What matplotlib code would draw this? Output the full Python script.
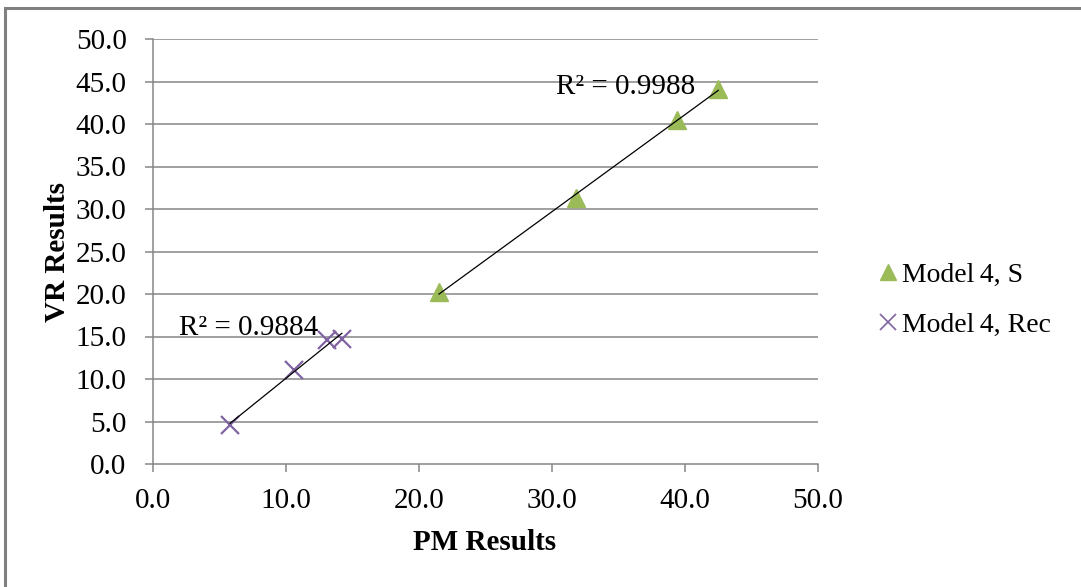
import numpy as np
import matplotlib
matplotlib.use("Agg")
import matplotlib.pyplot as plt
from matplotlib.patches import Rectangle
from matplotlib.lines import Line2D

# Data
s_pm = [21.5, 31.8, 39.4, 42.5]
s_vr = [20.2, 31.3, 40.5, 44.1]
rec_pm = [5.8, 10.6, 13.1, 14.2]
rec_vr = [4.6, 11.1, 14.6, 14.7]
s_label = "Model\u20094, S"
rec_label = "Model\u20094, Rec"
s_r2 = "R\u00b2 = 0.9988"
rec_r2 = "R\u00b2 = 0.9884"
ticks = [0, 10, 20, 30, 40, 50]
yticks = [0, 5, 10, 15, 20, 25, 30, 35, 40, 45, 50]

green = "#9BBB59"
purple = "#8064A2"
grid = "#868686"

plt.rcParams['font.family'] = ['Liberation Serif', 'DejaVu Serif']

fig = plt.figure(figsize=(10.81, 5.87), dpi=100)
fig.patches.append(Rectangle((5/1081, -0.1), 1.2, 1 - 8/587 + 0.1, transform=fig.transFigure,
                             fill=False, edgecolor="#808080", linewidth=2.2))

ax = fig.add_axes([153/1081, 1 - 464/587, 665/1081, 425/587])
ax.set_xlim(0, 50)
ax.set_ylim(0, 50)
ax.set_xticks(ticks)
ax.set_yticks(yticks)
ax.set_xticklabels([f"{t:.1f}" for t in ticks])
ax.set_yticklabels([f"{t:.1f}" for t in yticks])
for t in yticks[1:]:
    ax.axhline(t, color=grid, lw=1.1, zorder=0)
for sp in ['top', 'right']:
    ax.spines[sp].set_visible(False)
for sp in ['left', 'bottom']:
    ax.spines[sp].set_color(grid)
    ax.spines[sp].set_linewidth(1.1)
ax.tick_params(axis='both', direction='out', length=6, width=1.1, color=grid,
               labelsize=21, labelcolor='black')
ax.tick_params(axis='y', pad=13)
ax.tick_params(axis='x', pad=11)

# Trendlines
for xs, ys in [(s_pm, s_vr), (rec_pm, rec_vr)]:
    p = np.polyfit(xs, ys, 1)
    xx = np.array([min(xs), max(xs)])
    ax.plot(xx, np.polyval(p, xx), color='black', lw=0.9, zorder=3)

ax.plot(s_pm, s_vr, linestyle='none', marker='^', markersize=13, color=green,
        markeredgecolor=green, zorder=2, clip_on=False)
ax.plot(rec_pm, rec_vr, linestyle='none', marker='x', markersize=13, color=purple,
        markeredgewidth=1.6, zorder=2, clip_on=False)

ax.text(40.8, 44.3, s_r2, fontsize=21, ha='right', va='center')
ax.text(12.4, 16.0, rec_r2, fontsize=21, ha='right', va='center')

ax.set_xlabel("PM Results", fontsize=21, fontweight='bold')
ax.set_ylabel("VR Results", fontsize=21, fontweight='bold')
ax.xaxis.set_label_coords((485 - 153) / 665, (464 - 529) / 425)
ax.yaxis.set_label_coords((71 - 153) / 665, 0.5)

handles = [Line2D([], [], linestyle='none', marker='^', markersize=11, color=green),
           Line2D([], [], linestyle='none', marker='x', markersize=11, color=purple, markeredgewidth=1.2)]
fig.legend(handles, [s_label, rec_label], loc='center left',
           bbox_to_anchor=(864/1081, 1 - 300/587), frameon=False, fontsize=20,
           handlelength=0.7, handletextpad=0.15, labelspacing=0.9, borderpad=0)

fig.savefig("out.png", dpi=100)
